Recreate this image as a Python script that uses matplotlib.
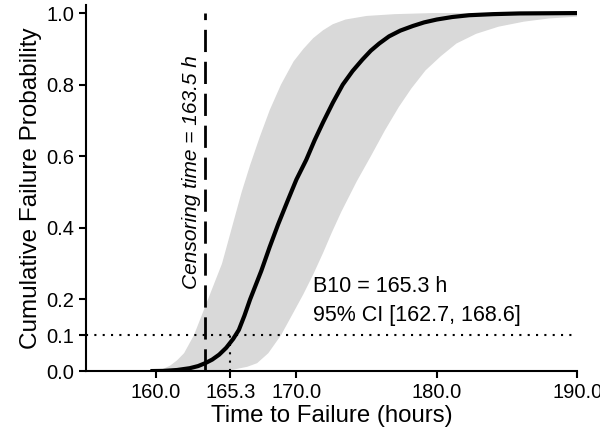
import matplotlib
matplotlib.use("Agg")
import matplotlib.pyplot as plt

plt.rcParams['font.family'] = ['Liberation Sans', 'DejaVu Sans']

# fitted CDF
fit_t = [159.6, 160.5, 161.5, 162.4, 163.0, 163.5, 164.0, 164.5, 165.0, 165.5,
         165.9, 166.3, 166.7, 167.1, 167.5, 168.1, 168.7, 169.4, 170.0, 170.7,
         171.3, 171.9, 172.6, 173.3, 174.0, 174.7, 175.3, 175.9, 176.6, 177.4,
         178.3, 179.1, 180.0, 181.1, 182.3, 184.0, 185.9, 190.0]
fit_F = [0.0, 0.0005, 0.003, 0.008, 0.014, 0.022, 0.032, 0.046, 0.065, 0.09,
         0.115, 0.155, 0.20, 0.24, 0.28, 0.347, 0.41, 0.478, 0.535, 0.59,
         0.645, 0.695, 0.75, 0.80, 0.838, 0.87, 0.895, 0.915, 0.935, 0.951,
         0.964, 0.974, 0.982, 0.989, 0.994, 0.997, 0.999, 1.0]

# 95% confidence band edges
upper_t = [160.0, 160.5, 161.0, 161.5, 162.0, 162.7, 163.2, 163.7, 164.2, 164.7,
           165.4, 166.1, 166.7, 167.4, 168.1, 168.9, 169.8, 170.5, 171.2, 171.9,
           172.6, 173.5, 175.0, 177.0, 179.7, 190.0]
upper_F = [0.0, 0.006, 0.015, 0.03, 0.05, 0.10, 0.15, 0.20, 0.25, 0.30,
           0.40, 0.50, 0.575, 0.655, 0.729, 0.80, 0.865, 0.90, 0.93, 0.952,
           0.969, 0.982, 0.992, 0.997, 1.0, 1.0]
lower_t = [164.0, 165.5, 166.5, 167.2, 168.0, 168.9, 169.6, 170.5, 171.2, 171.9,
           172.5, 173.2, 174.3, 175.3, 176.3, 177.3, 178.2, 179.2, 180.3, 181.4,
           182.8, 184.4, 186.2, 188.0, 190.0]
lower_F = [0.0, 0.004, 0.012, 0.022, 0.05, 0.10, 0.15, 0.215, 0.27, 0.33,
           0.385, 0.445, 0.53, 0.60, 0.672, 0.738, 0.79, 0.84, 0.88, 0.915,
           0.942, 0.962, 0.976, 0.985, 0.99]

censor_time = 163.5
b10 = 165.3
b10_ci = (162.7, 168.6)
xticks = [160.0, 165.3, 170.0, 180.0, 190.0]
yticks = [0.0, 0.1, 0.2, 0.4, 0.6, 0.8, 1.0]

fig = plt.figure(figsize=(6, 4.33), dpi=100)
ax = fig.add_axes([0.143, 0.143, 0.819, 0.845])

band_t = upper_t + lower_t[::-1]
band_F = upper_F + lower_F[::-1]
ax.fill(band_t, band_F, color="#d9d9d9", lw=0, zorder=1)
ax.plot(fit_t, fit_F, color="black", lw=3, solid_capstyle="butt",
        solid_joinstyle="round", zorder=3)

ax.vlines(censor_time, 0, 1.0, colors="black", lw=2, linestyles=(0, (8, 3.5)), zorder=2)
ax.axhline(0.1, color="black", lw=1.5, ls=(0, (1, 3)), zorder=2)
ax.vlines(b10, 0, 0.1, colors="black", lw=1.5, linestyles=(0, (1, 3)), zorder=2)

ax.text(censor_time - 0.3, 0.555, "Censoring time = 163.5 h", rotation=90,
        ha="right", va="center", fontsize=15, style="italic")
ax.text(171.2, 0.237, f"B10 = {b10:.1f} h", fontsize=15.5, va="center")
ax.text(171.2, 0.155, f"95% CI [{b10_ci[0]:.1f}, {b10_ci[1]:.1f}]", fontsize=15.5,
        va="center")

ax.set_xlim(155, 190)
ax.set_ylim(0, 1.022)
ax.set_xticks(xticks)
ax.set_xticklabels([f"{t:.1f}" for t in xticks])
ax.set_yticks(yticks)
ax.set_yticklabels([f"{v:.1f}" for v in yticks])
ax.tick_params(labelsize=14.5, width=1.5, length=5)

for s in ["top", "right"]:
    ax.spines[s].set_visible(False)
for s in ["left", "bottom"]:
    ax.spines[s].set_linewidth(1.5)

ax.set_xlabel("Time to Failure (hours)", fontsize=17.3, labelpad=2)
ax.set_ylabel("Cumulative Failure Probability", fontsize=17.5, labelpad=3)

fig.savefig("out.png", dpi=100)
